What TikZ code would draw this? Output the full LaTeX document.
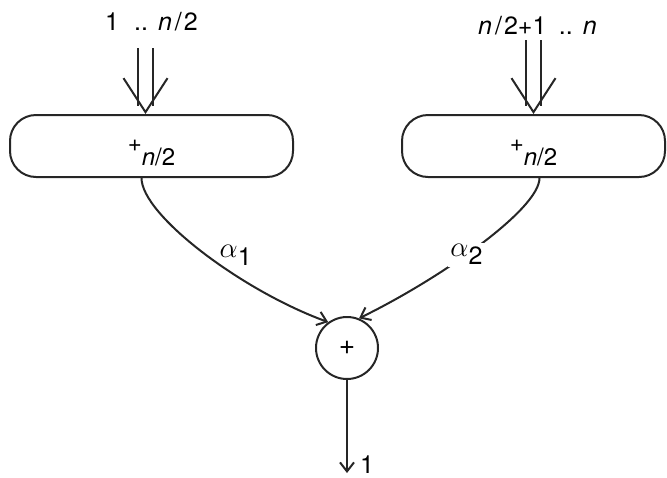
\documentclass[tikz,border=0pt]{standalone}
\usepackage{fontspec}
\setmainfont{TeX Gyre Heros}
\usetikzlibrary{positioning, arrows.meta}

\begin{document}
\begin{tikzpicture}[
    x=0.5pt, y=-0.5pt,
    line width=1pt,
    half/.style={draw=black!85, rounded corners=13pt, minimum height=31pt, inner sep=0pt, font=\fontsize{12}{14}\selectfont},
    adder/.style={circle, draw=black!85, minimum size=31pt, inner sep=0pt, font=\fontsize{14}{16}\selectfont},
    lbl/.style={font=\fontsize{12.5}{15}\selectfont, inner sep=1pt},
    feed/.style={draw=black!85, double=white, double distance=6.5pt, shorten >=4pt},
    feedtip/.style={-{Straight Barb[length=17pt, width=22pt, line width=1pt, color=black!85]}, draw=white, line width=0.01pt},
    link/.style={draw=black!85, -{Straight Barb[length=4.5pt, width=7pt]}}
]
\useasboundingbox (0,0) rectangle (667,477);

% Half sums
\node[half, minimum width=141.5pt] (lsum) at (151.5,146) {+\raisebox{-7pt}[0pt][0pt]{\textit{n}/2}};
\node[half, minimum width=131.5pt] (rsum) at (533.5,146) {+\raisebox{-7pt}[0pt][0pt]{\textit{n}/2}};

% Inputs
\node[lbl, above=40pt of lsum] (lin) {1\hspace{0.6em}..\hspace{0.4em}\textit{n}\kern1.5pt/\kern1pt2};
\node[lbl, above=38pt of rsum, xshift=2pt] (rin) {\textit{n}\kern1.5pt/\kern1pt2+1\hspace{0.5em}..\hspace{0.4em}\textit{n}};

\draw[feed, shorten <=7pt] ([xshift=-3pt]lin.south) -- ([xshift=-3pt]lsum.north);
\draw[feedtip, shorten <=7pt] ([xshift=-3pt]lin.south) -- ([xshift=-3pt]lsum.north);
\draw[feed, shorten <=1pt] ([xshift=-2pt]rin.south) -- (rsum.north);
\draw[feedtip, shorten <=1pt] ([xshift=-2pt]rin.south) -- (rsum.north);

% Final sum
\node[adder] (sum) at (347,348) {+};
\coordinate[below=46.5pt of sum] (out);

\draw[link] ([xshift=-5pt]lsum.south) to[out=-90, in=160, out looseness=0.4]
    node[lbl, pos=0.52, right=5pt] {{\Large$\alpha$}\raisebox{-0.6ex}{1}} (sum.126);
\draw[link] ([xshift=3pt]rsum.south) to[out=-90, in=26, out looseness=0.35]
    node[lbl, pos=0.56, fill=white] {{\Large$\alpha$}\raisebox{-0.6ex}{2}} (sum.68);

\draw[link] (sum) -- (out);
\node[lbl, anchor=base west] (one) at ([xshift=5pt]out) {1};

\end{tikzpicture}
\end{document}
